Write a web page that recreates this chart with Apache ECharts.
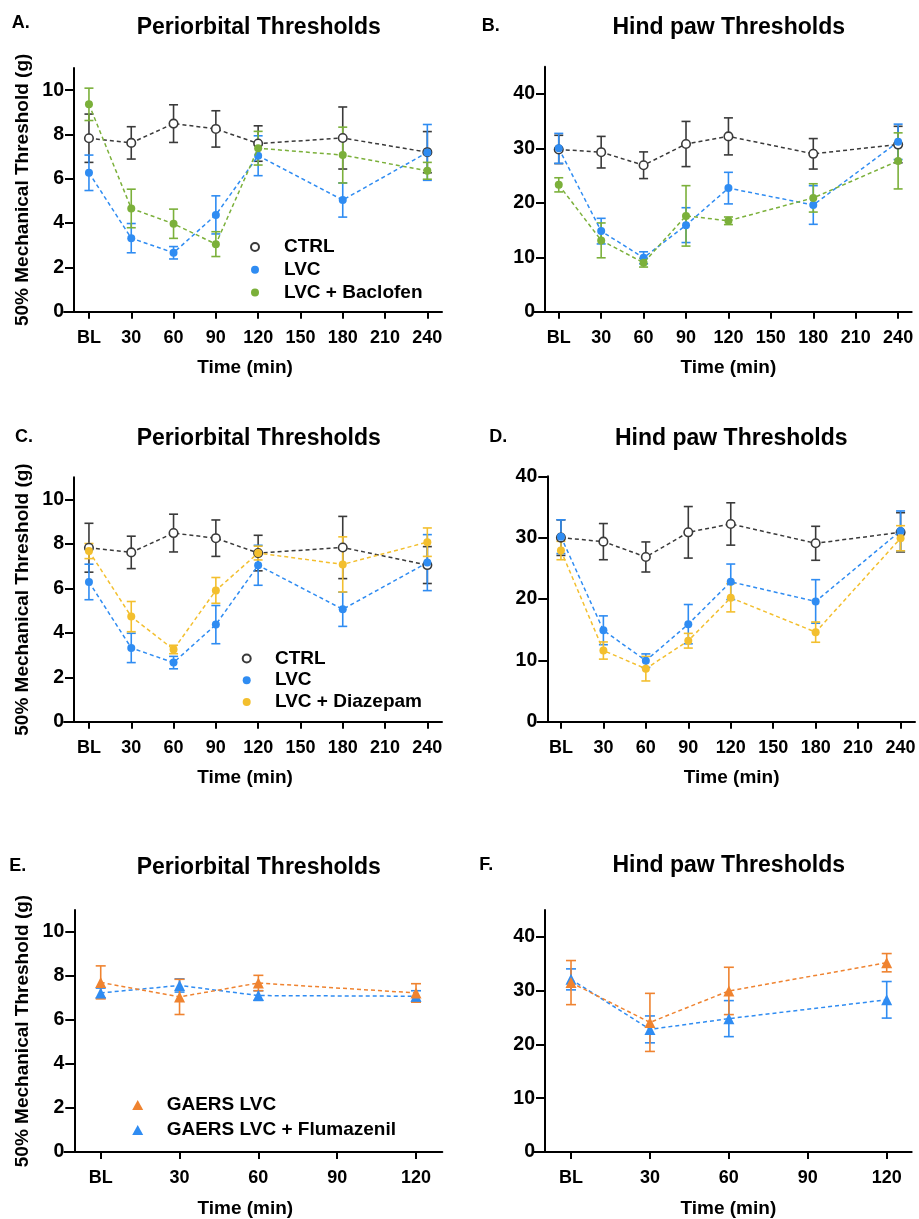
<!DOCTYPE html>
<html>
<head>
<meta charset="utf-8">
<script src="https://cdn.jsdelivr.net/npm/echarts@6/dist/echarts.min.js"></script>
<style>
  html, body { margin: 0; padding: 0; background: #fff; }
  #chart { width: 919px; height: 1219px; }
</style>
</head>
<body>
<div id="chart"></div>
<script>
// ---------- data ----------
const timesLong = [0, 30, 60, 90, 120, 180, 240];
const timesShort = [0, 30, 60, 120];
const xTickValuesLong = [0, 30, 60, 90, 120, 150, 180, 210, 240];
const xTickLabelsLong = ['BL', '30', '60', '90', '120', '150', '180', '210', '240'];
const xTickValuesShort = [0, 30, 60, 90, 120];
const xTickLabelsShort = ['BL', '30', '60', '90', '120'];
const periorbitalTicks = [0, 2, 4, 6, 8, 10];
const hindpawTicks = [0, 10, 20, 30, 40];

// Panel A – Periorbital (Baclofen)
const aCtrlMean = [7.83, 7.62, 8.49, 8.25, 7.59, 7.84, 7.20];
const aCtrlErr  = [1.09, 0.73, 0.85, 0.82, 0.80, 1.40, 0.93];
const aLvcMean  = [6.27, 3.32, 2.66, 4.37, 7.04, 5.04, 7.19];
const aLvcErr   = [0.80, 0.66, 0.28, 0.86, 0.90, 0.77, 1.26];
const aBacMean  = [9.36, 4.66, 3.97, 3.05, 7.38, 7.07, 6.36];
const aBacErr   = [0.73, 0.87, 0.66, 0.56, 0.76, 1.26, 0.38];

// Panel B – Hind paw (Baclofen)
const bCtrlMean = [29.8, 29.3, 26.9, 30.8, 32.2, 29.0, 30.7];
const bCtrlErr  = [2.6, 2.9, 2.45, 4.15, 3.4, 2.8, 3.35];
const bLvcMean  = [30.0, 14.8, 9.9, 15.9, 22.7, 19.6, 31.2];
const bLvcErr   = [2.75, 2.35, 1.1, 3.2, 2.9, 3.55, 3.25];
const bBacMean  = [23.3, 13.1, 9.0, 17.6, 16.7, 20.9, 27.7];
const bBacErr   = [1.3, 3.2, 0.8, 5.55, 0.7, 2.6, 5.15];

// Panel C – Periorbital (Diazepam)
const cCtrlMean = [7.83, 7.62, 8.49, 8.26, 7.59, 7.84, 7.05];
const cCtrlErr  = [1.10, 0.73, 0.85, 0.82, 0.80, 1.40, 0.83];
const cLvcMean  = [6.29, 3.32, 2.66, 4.37, 7.04, 5.06, 7.16];
const cLvcErr   = [0.80, 0.66, 0.28, 0.86, 0.90, 0.77, 1.26];
const cDiaMean  = [7.68, 4.73, 3.25, 5.91, 7.59, 7.08, 8.08];
const cDiaErr   = [0.34, 0.68, 0.19, 0.58, 0.31, 1.24, 0.64];

// Panel D – Hind paw (Diazepam)
const dCtrlMean = [30.0, 29.35, 26.85, 30.87, 32.23, 29.08, 30.87];
const dCtrlErr  = [2.9, 2.95, 2.45, 4.2, 3.45, 2.77, 3.2];
const dLvcMean  = [30.16, 14.9, 9.95, 15.9, 22.8, 19.6, 31.1];
const dLvcErr   = [2.75, 2.35, 1.1, 3.2, 2.9, 3.55, 3.25];
const dDiaMean  = [27.9, 11.6, 8.64, 13.2, 20.2, 14.6, 29.9];
const dDiaErr   = [1.5, 1.4, 2.0, 1.2, 2.3, 1.65, 2.05];

// Panel E – Periorbital (GAERS)
const eLvcMean = [7.71, 7.05, 7.68, 7.23];
const eLvcErr  = [0.75, 0.80, 0.35, 0.42];
const eFluMean = [7.23, 7.57, 7.11, 7.08];
const eFluErr  = [0.22, 0.30, 0.22, 0.25];

// Panel F – Hind paw (GAERS)
const fLvcMean = [31.5, 24.1, 29.95, 35.2];
const fLvcErr  = [4.1, 5.4, 4.4, 1.7];
const fFluMean = [32.1, 22.8, 24.8, 28.3];
const fFluErr  = [1.95, 2.5, 3.35, 3.4];

// ---------- styling ----------
const FONT = "'Liberation Sans', Arial, Helvetica, sans-serif";
const C_CTRL = '#3a3a3a';
const C_BLUE = '#2f8cf2';
const C_GREEN = '#7bb03a';
const C_YELLOW = '#f3bf2e';
const C_ORANGE = '#ef8330';

const chart = echarts.init(document.getElementById('chart'), null, { renderer: 'canvas' });

const grids = [
  { left: 64, top: 68, width: 378, height: 243.7 },       // A
  { left: 534, top: 66.7, width: 377.7, height: 245 },    // B
  { left: 64, top: 477.3, width: 378, height: 244.4 },    // C
  { left: 537.3, top: 476.3, width: 377.7, height: 245.4 },// D
  { left: 64.3, top: 910, width: 378, height: 244 },      // E
  { left: 534, top: 910, width: 377.7, height: 244 }      // F
];

const xRanges = [[-17.7, 250.4], [-17.5, 249.6], [-17.7, 250.4], [-16.7, 250.2], [-13.86, 130.0], [-14.07, 129.5]];
const yMax = [11, 45, 11, 40, 11, 45];
const yOffsets = [-10, -11, -10, -10, -10, -11];
const xNamePad = [[0, 16, 0, 0], [0, 0, 0, 11], [0, 16, 0, 0], [0, 0, 0, 11], [0, 16, 0, 0], [0, 0, 0, 11]];

function xAxisFor(i, long) {
  const vals = long ? xTickValuesLong : xTickValuesShort;
  const labs = long ? xTickLabelsLong : xTickLabelsShort;
  return {
    type: 'value', gridIndex: i, min: xRanges[i][0], max: xRanges[i][1],
    name: 'Time (min)', nameLocation: 'middle', nameGap: 47,
    nameTextStyle: { fontFamily: FONT, fontWeight: 'bold', fontSize: 19, color: '#000', padding: xNamePad[i] },
    axisLine: { show: true, onZero: false, lineStyle: { color: '#000', width: 2 } },
    axisTick: { show: true, customValues: vals, length: 7, lineStyle: { color: '#000', width: 2 } },
    axisLabel: {
      show: true, customValues: vals, margin: 17,
      fontFamily: FONT, fontWeight: 'bold', fontSize: 18, color: '#000',
      formatter: v => labs[vals.indexOf(v)]
    },
    splitLine: { show: false }
  };
}

function yAxisFor(i, ticks, withName) {
  return {
    type: 'value', gridIndex: i, min: 0, max: yMax[i], offset: yOffsets[i],
    name: withName ? '50% Mechanical Threshold (g)' : '',
    nameLocation: 'middle', nameRotate: 90, nameGap: 42,
    nameTextStyle: { fontFamily: FONT, fontWeight: 'bold', fontSize: 19, color: '#000' },
    axisLine: { show: true, onZero: false, lineStyle: { color: '#000', width: 2 } },
    axisTick: { show: true, customValues: ticks, length: 9, lineStyle: { color: '#000', width: 2 } },
    axisLabel: {
      show: true, customValues: ticks, margin: 10,
      fontFamily: FONT, fontWeight: 'bold', fontSize: 19.5, color: '#000'
    },
    splitLine: { show: false }
  };
}

function errSeries(name, idx, times, mean, err, color, capW) {
  return {
    name: name, type: 'custom', xAxisIndex: idx, yAxisIndex: idx, z: 2,
    silent: true,
    data: times.map((t, k) => [t, mean[k] - err[k], mean[k] + err[k]]),
    renderItem: function (params, api) {
      const x = api.value(0);
      const lo = api.coord([x, api.value(1)]);
      const hi = api.coord([x, api.value(2)]);
      const st = { stroke: color, lineWidth: 1.6 };
      return {
        type: 'group',
        children: [
          { type: 'line', shape: { x1: hi[0], y1: hi[1], x2: lo[0], y2: lo[1] }, style: st },
          { type: 'line', shape: { x1: hi[0] - capW, y1: hi[1], x2: hi[0] + capW, y2: hi[1] }, style: st },
          { type: 'line', shape: { x1: lo[0] - capW, y1: lo[1], x2: lo[0] + capW, y2: lo[1] }, style: st }
        ]
      };
    }
  };
}

function lineSeries(name, idx, times, mean, color, opts) {
  opts = opts || {};
  const hollow = !!opts.hollow;
  return {
    name: name, type: 'line', xAxisIndex: idx, yAxisIndex: idx, z: opts.z || 3,
    data: times.map((t, k) => [t, mean[k]]),
    symbol: opts.symbol || 'circle',
    symbolSize: opts.size || 8,
    showAllSymbol: true,
    lineStyle: { color: color, width: 1.5, type: [4, 3] },
    itemStyle: hollow ? { color: '#fff', borderColor: color, borderWidth: 1.6 } : { color: color, borderWidth: 0 },
    emphasis: { disabled: true },
    silent: true
  };
}

const series = [];
function addGroup(idx, times, mean, err, name, color, opts) {
  series.push(errSeries(name + ' err ' + idx, idx, times, mean, err, color, opts && opts.capW || 4.5));
  series.push(lineSeries(name, idx, times, mean, color, opts));
}

// A
addGroup(0, timesLong, aCtrlMean, aCtrlErr, 'CTRL', C_CTRL, { hollow: true, z: 3, size: 8.5 });
addGroup(0, timesLong, aLvcMean, aLvcErr, 'LVC', C_BLUE, { z: 4 });
addGroup(0, timesLong, aBacMean, aBacErr, 'LVC + Baclofen', C_GREEN, { z: 5 });
// B
addGroup(1, timesLong, bCtrlMean, bCtrlErr, 'CTRL', C_CTRL, { hollow: true, z: 3, size: 8.5 });
addGroup(1, timesLong, bLvcMean, bLvcErr, 'LVC', C_BLUE, { z: 4 });
addGroup(1, timesLong, bBacMean, bBacErr, 'LVC + Baclofen', C_GREEN, { z: 5 });
// C
addGroup(2, timesLong, cCtrlMean, cCtrlErr, 'CTRL', C_CTRL, { hollow: true, z: 3, size: 8.5 });
addGroup(2, timesLong, cLvcMean, cLvcErr, 'LVC', C_BLUE, { z: 4 });
addGroup(2, timesLong, cDiaMean, cDiaErr, 'LVC + Diazepam', C_YELLOW, { z: 5 });
// D
addGroup(3, timesLong, dCtrlMean, dCtrlErr, 'CTRL', C_CTRL, { hollow: true, z: 3, size: 8.5 });
addGroup(3, timesLong, dLvcMean, dLvcErr, 'LVC', C_BLUE, { z: 4 });
addGroup(3, timesLong, dDiaMean, dDiaErr, 'LVC + Diazepam', C_YELLOW, { z: 5 });
// E
addGroup(4, timesShort, eFluMean, eFluErr, 'GAERS LVC + Flumazenil', C_BLUE, { symbol: 'triangle', size: 11, capW: 5, z: 4 });
addGroup(4, timesShort, eLvcMean, eLvcErr, 'GAERS LVC', C_ORANGE, { symbol: 'triangle', size: 11, capW: 5, z: 5 });
// F
addGroup(5, timesShort, fFluMean, fFluErr, 'GAERS LVC + Flumazenil', C_BLUE, { symbol: 'triangle', size: 11, capW: 5, z: 4 });
addGroup(5, timesShort, fLvcMean, fLvcErr, 'GAERS LVC', C_ORANGE, { symbol: 'triangle', size: 11, capW: 5, z: 5 });

const legendText = { fontFamily: FONT, fontWeight: 'bold', fontSize: 19, color: '#000', lineHeight: 19 };

const legends = [
  {
    orient: 'vertical', left: 250, top: 237.5, padding: 0, itemGap: 3.7,
    itemWidth: 8, itemHeight: 8, icon: 'circle', selectedMode: false,
    data: ['CTRL', 'LVC', 'LVC + Baclofen'],
    textStyle: Object.assign({}, legendText, { padding: [0, 0, 0, 20] })
  },
  {
    orient: 'vertical', left: 241.7, top: 649, padding: 0, itemGap: 2.7,
    itemWidth: 8, itemHeight: 8, icon: 'circle', selectedMode: false,
    data: ['CTRL', 'LVC', 'LVC + Diazepam'],
    textStyle: Object.assign({}, legendText, { padding: [0, 0, 0, 19.3] })
  },
  {
    orient: 'vertical', left: 132.2, top: 1095.5, padding: 0, itemGap: 6,
    itemWidth: 11, itemHeight: 10, icon: 'triangle', selectedMode: false,
    data: ['GAERS LVC', 'GAERS LVC + Flumazenil'],
    textStyle: Object.assign({}, legendText, { padding: [0, 0, 0, 18.5] })
  }
];

function txt(text, x, y, size, align) {
  return {
    type: 'text', x: x, y: y, silent: true,
    style: { text: text, font: 'bold ' + size + 'px ' + FONT, fill: '#000', textAlign: align, textVerticalAlign: 'middle' }
  };
}

const graphics = [
  txt('A.', 11.7, 23.5, 18, 'left'),
  txt('Periorbital Thresholds', 258.7, 27.5, 23, 'center'),
  txt('B.', 481.7, 26.5, 18, 'left'),
  txt('Hind paw Thresholds', 728.7, 27.5, 23, 'center'),
  txt('C.', 15, 437.5, 18, 'left'),
  txt('Periorbital Thresholds', 258.7, 438.5, 23, 'center'),
  txt('D.', 489.3, 437.5, 18, 'left'),
  txt('Hind paw Thresholds', 731.3, 438.5, 23, 'center'),
  txt('E.', 9.3, 866.5, 18, 'left'),
  txt('Periorbital Thresholds', 258.7, 867.5, 23, 'center'),
  txt('F.', 479.3, 865, 18, 'left'),
  txt('Hind paw Thresholds', 728.7, 866, 23, 'center')
];

const option = {
  animation: false,
  backgroundColor: '#fff',
  grid: grids,
  xAxis: [
    xAxisFor(0, true), xAxisFor(1, true), xAxisFor(2, true),
    xAxisFor(3, true), xAxisFor(4, false), xAxisFor(5, false)
  ],
  yAxis: [
    yAxisFor(0, periorbitalTicks, true), yAxisFor(1, hindpawTicks, false),
    yAxisFor(2, periorbitalTicks, true), yAxisFor(3, hindpawTicks, false),
    yAxisFor(4, periorbitalTicks, true), yAxisFor(5, hindpawTicks, false)
  ],
  legend: legends,
  graphic: graphics,
  series: series
};

chart.setOption(option);
</script>
</body>
</html>
